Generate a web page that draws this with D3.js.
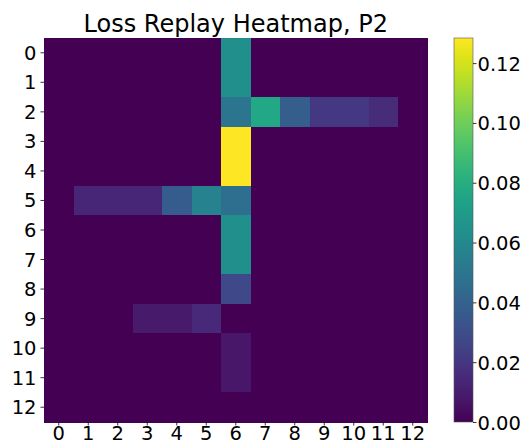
<!DOCTYPE html>
<html>
<head>
<meta charset="utf-8">
<style>
  body { margin: 0; background: white; }
  text { font-family: "DejaVu Sans", sans-serif; fill: #000; }
</style>
</head>
<body>
<svg width="532" height="443" viewBox="0 0 532 443"></svg>
<script src="https://d3js.org/d3.v7.min.js"></script>
<script>
// heatmap values, row = y label, column = x label
const rowLabels = d3.range(13).map(String);
const colLabels = d3.range(13).map(String);
const values = [
  [0, 0, 0, 0, 0, 0, 0.064, 0, 0, 0, 0, 0, 0],
  [0, 0, 0, 0, 0, 0, 0.064, 0, 0, 0, 0, 0, 0],
  [0, 0, 0, 0, 0, 0, 0.050, 0.077, 0.038, 0.021, 0.021, 0.016, 0],
  [0, 0, 0, 0, 0, 0, 0.128, 0, 0, 0, 0, 0, 0],
  [0, 0, 0, 0, 0, 0, 0.128, 0, 0, 0, 0, 0, 0],
  [0, 0.014, 0.014, 0.014, 0.037, 0.057, 0.046, 0, 0, 0, 0, 0, 0],
  [0, 0, 0, 0, 0, 0, 0.064, 0, 0, 0, 0, 0, 0],
  [0, 0, 0, 0, 0, 0, 0.064, 0, 0, 0, 0, 0, 0],
  [0, 0, 0, 0, 0, 0, 0.028, 0, 0, 0, 0, 0, 0],
  [0, 0, 0, 0.009, 0.009, 0.015, 0, 0, 0, 0, 0, 0, 0],
  [0, 0, 0, 0, 0, 0, 0.008, 0, 0, 0, 0, 0, 0],
  [0, 0, 0, 0, 0, 0, 0.008, 0, 0, 0, 0, 0, 0],
  [0, 0, 0, 0, 0, 0, 0, 0, 0, 0, 0, 0, 0]
];
const colorTicks = [0, 0.02, 0.04, 0.06, 0.08, 0.10, 0.12];
const vmax = 0.1284;
const title = 'Loss Replay Heatmap, P2';

const svg = d3.select('svg');
const plot = { left: 44, top: 38, right: 427.5, bottom: 422 };
const fs = '19.5px';

const x = d3.scaleBand().domain(colLabels).range([plot.left, plot.right]);
const y = d3.scaleBand().domain(rowLabels).range([plot.top, plot.bottom]);
const color = d3.scaleSequential(d3.interpolateViridis).domain([0, vmax]);

const cells = [];
values.forEach((row, i) => row.forEach((v, j) => cells.push({ r: rowLabels[i], c: colLabels[j], v })));

svg.append('g')
  .attr('shape-rendering', 'crispEdges')
  .selectAll('rect').data(cells).join('rect')
  .attr('x', d => x(d.c))
  .attr('y', d => y(d.r))
  .attr('width', x.bandwidth() + 0.5)
  .attr('height', y.bandwidth() + 0.5)
  .attr('fill', d => color(d.v));

// axes
const xAxis = svg.append('g')
  .attr('transform', `translate(0,${plot.bottom})`)
  .call(d3.axisBottom(x).tickSize(3.5).tickPadding(1));
const yAxis = svg.append('g')
  .attr('transform', `translate(${plot.left},0)`)
  .call(d3.axisLeft(y).tickSize(3.5).tickPadding(4));
[xAxis, yAxis].forEach(a => {
  a.select('.domain').remove();
  a.selectAll('text').attr('font-size', fs).attr('font-family', '"DejaVu Sans", sans-serif').attr('fill', '#000');
  a.selectAll('line').attr('stroke', '#000').attr('stroke-width', 0.8);
});
xAxis.selectAll('text').attr('dy', '0.71em');
yAxis.selectAll('text').attr('dy', '0.36em');

// title
svg.append('text')
  .attr('x', (plot.left + plot.right) / 2)
  .attr('y', 32)
  .attr('text-anchor', 'middle')
  .attr('font-size', '24px')
  .text(title);

// colorbar
const cb = { x: 454, w: 19 };
const cy = d3.scaleLinear().domain([0, vmax]).range([plot.bottom, plot.top]);
const defs = svg.append('defs');
const grad = defs.append('linearGradient')
  .attr('id', 'cbgrad').attr('x1', 0).attr('y1', 1).attr('x2', 0).attr('y2', 0);
grad.selectAll('stop').data(d3.range(0, 1.0001, 0.05)).join('stop')
  .attr('offset', d => d)
  .attr('stop-color', d => d3.interpolateViridis(d));
svg.append('rect')
  .attr('x', cb.x).attr('y', plot.top)
  .attr('width', cb.w).attr('height', plot.bottom - plot.top)
  .attr('fill', 'url(#cbgrad)')
  .attr('stroke', '#555').attr('stroke-width', 0.6);
const cAxis = svg.append('g')
  .attr('transform', `translate(${cb.x + cb.w},0)`)
  .call(d3.axisRight(cy).tickValues(colorTicks).tickFormat(d3.format('.2f')).tickSize(3.5).tickPadding(1));
cAxis.select('.domain').remove();
cAxis.selectAll('text').attr('font-size', fs).attr('font-family', '"DejaVu Sans", sans-serif').attr('fill', '#000').attr('dy', '0.36em');
cAxis.selectAll('line').attr('stroke', '#000').attr('stroke-width', 0.8);
</script>
</body>
</html>
